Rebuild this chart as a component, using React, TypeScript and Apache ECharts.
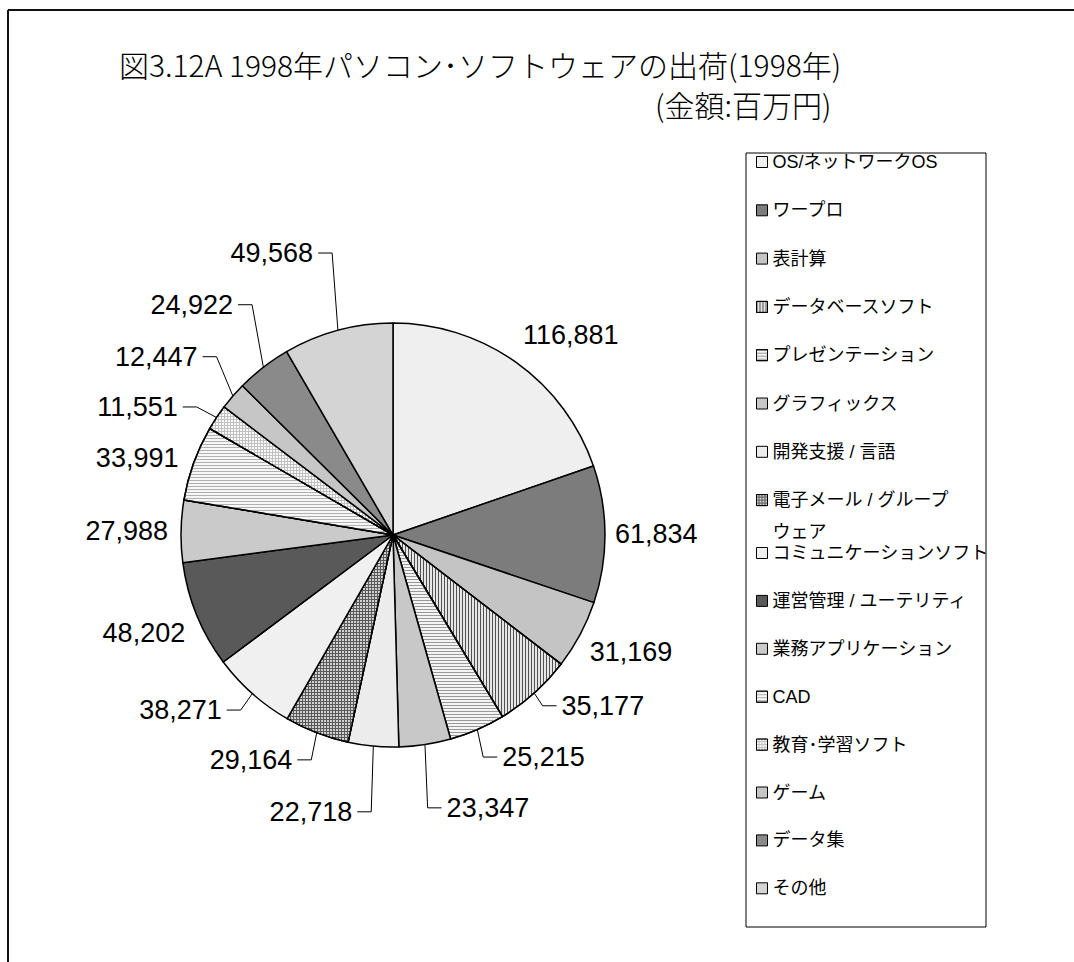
import React, { useEffect, useRef } from 'react';
import * as echarts from 'echarts';

// ---- data ----
const categories = [
  'OS/ネットワークOS',
  'ワープロ',
  '表計算',
  'データベースソフト',
  'プレゼンテーション',
  'グラフィックス',
  '開発支援 / 言語',
  '電子メール / グループウェア',
  'コミュニケーションソフト',
  '運営管理 / ユーテリティ',
  '業務アプリケーション',
  'CAD',
  '教育･学習ソフト',
  'ゲーム',
  'データ集',
  'その他',
];
const values = [116881, 61834, 31169, 35177, 25215, 23347, 22718, 29164, 38271, 48202, 27988, 33991, 11551, 12447, 24922, 49568];

const titleLine1 = '図3.12A 1998年パソコン･ソフトウェアの出荷(1998年)';
const titleLine2 = '(金額:百万円)';

// ---- styling ----
const legendWrap: Record<string, string> = {
  '電子メール / グループウェア': '{w|電子メール / グループ}\n{w|ウェア}',
};
const fills = ['#efefef', '#7c7c7c', '#c4c4c4', '#e6e6e6', '#f4f4f4', '#c8c8c8', '#ececec', '#5a5a5a',
  '#f0f0f0', '#595959', '#cacaca', '#f6f6f6', '#c0c0c0', '#c6c6c6', '#8a8a8a', '#d4d4d4'];
const vStripe = { symbol: 'rect', symbolSize: 1, color: '#505050', dashArrayX: [1, 2], dashArrayY: [1, 0] };
const hStripe = (c: string) => ({ symbol: 'rect', symbolSize: 1, color: c, dashArrayX: [1, 0], dashArrayY: [1, 2] });
const grid = (c: string) => ({ symbol: 'rect', symbolSize: 1, color: c, dashArrayX: [2, 1], dashArrayY: [2, 1] });
const decals: any[] = [null, null, null, vStripe, hStripe('#999999'), null, null, grid('#d0d0d0'),
  null, null, null, hStripe('#b0b0b0'), grid('#fafafa'), null, null, null];
const lineLen1 = [34, 5, 37, 17, 30, 64, 66, 29, 22, 48, 10, 15, 19, 60, 79, 80];
const lineLen2 = [-16, 2, -26, 13, 10, 9, 12, 11, 13, -36, 0, -2, 20, -13, -21, 1];
const showLine = [false, false, false, true, true, true, true, true, true, false, false, false, true, true, true, true];

const jpFont = "'Noto Sans CJK JP', sans-serif";
const latinFont = "'Liberation Sans', Arial, 'Noto Sans CJK JP', sans-serif";

const legendBase = {
  orient: 'vertical', left: 756, padding: 0,
  itemWidth: 11, itemHeight: 11, icon: 'rect', selectedMode: false,
  formatter: (name: string) => legendWrap[name] ?? name,
  itemStyle: { borderColor: '#000', borderWidth: 1 },
  textStyle: {
    fontSize: 18, lineHeight: 32, height: 32, color: '#000', fontFamily: latinFont,
    rich: { w: { fontSize: 18, lineHeight: 32, color: '#000', fontFamily: latinFont } },
  },
};

export default function App() {
  const ref = useRef<HTMLDivElement>(null);
  useEffect(() => {
    if (!ref.current) return;
    const chart = echarts.init(ref.current, undefined, { renderer: 'svg' });
    chart.setOption({
      animation: false,
      backgroundColor: '#ffffff',
      title: [
        {
          text: titleLine1, left: 119, top: 49, padding: 0,
          textStyle: { fontSize: 30, lineHeight: 30, fontWeight: 300, color: '#000', fontFamily: jpFont },
        },
        {
          text: titleLine2, left: 655, top: 89, padding: 0,
          textStyle: { fontSize: 30, lineHeight: 30, fontWeight: 300, color: '#000', fontFamily: jpFont },
        },
      ],
      legend: [
        { ...legendBase, top: 146, itemGap: 16.3, data: categories.slice(0, 8) },
        { ...legendBase, top: 537, itemGap: 15.9, data: categories.slice(8) },
      ],
      graphic: [
        { type: 'line', shape: { x1: 8, y1: 10, x2: 1074, y2: 10 }, style: { stroke: '#111', lineWidth: 2 } },
        { type: 'line', shape: { x1: 8, y1: 10, x2: 8, y2: 962 }, style: { stroke: '#111', lineWidth: 2 } },
        { type: 'rect', shape: { x: 746, y: 153, width: 240, height: 774 }, style: { fill: 'transparent', stroke: '#000', lineWidth: 1 } },
      ],
      series: [
        {
          type: 'pie',
          center: [393, 535],
          radius: 212,
          startAngle: 90,
          clockwise: true,
          avoidLabelOverlap: false,
          emphasis: { disabled: true },
          itemStyle: { borderColor: '#000', borderWidth: 1.5 },
          label: {
            show: true, position: 'outside', distanceToLabelLine: 3,
            fontSize: 27, fontFamily: latinFont, color: '#000',
            formatter: (p: any) => Number(p.value).toLocaleString('en-US'),
          },
          labelLine: { show: true, lineStyle: { color: '#000', width: 1 } },
          labelLayout: (p: any) => {
            const pts = p.labelLinePoints;
            if (!pts || pts.length < 3) return {};
            const s = pts[2][0] >= pts[0][0] ? 1 : -1;
            const edge = pts[2][0] + s * 3;
            const y = pts[2][1];
            return { labelLinePoints: [pts[0], [edge - s * 19, y], [edge - s * 5, y]] };
          },
          data: values.map((v, i) => ({
            name: categories[i],
            value: v,
            itemStyle: decals[i] ? { color: fills[i], decal: decals[i] } : { color: fills[i] },
            labelLine: { show: showLine[i], length: lineLen1[i], length2: lineLen2[i] },
          })),
        },
      ],
    });
    return () => chart.dispose();
  }, []);
  return (
    <div
      ref={ref}
      style={{ position: 'fixed', left: 0, top: 0, width: 1074, height: 962, background: '#fff' }}
    />
  );
}
